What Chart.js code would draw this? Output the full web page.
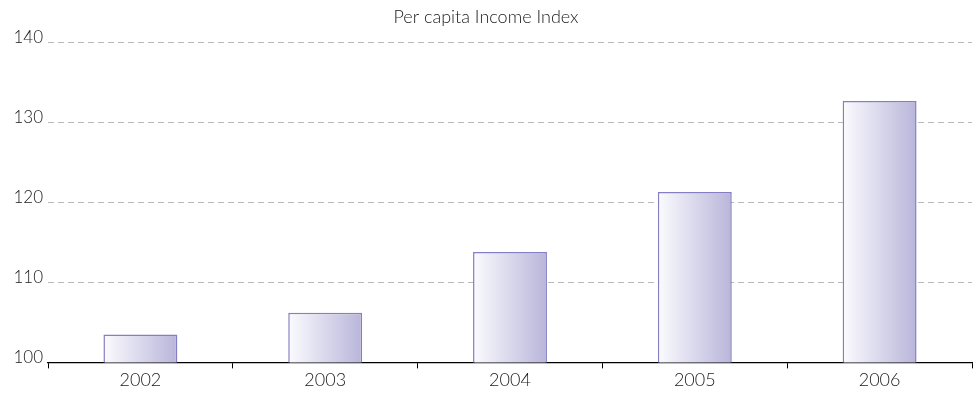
<!DOCTYPE html>
<html>
<head>
<meta charset="utf-8">
<script src="https://cdn.jsdelivr.net/npm/chart.js@4.4.1/dist/chart.umd.min.js"></script>
<style>
  html, body { margin: 0; padding: 0; background: #fff; }
  #wrap { width: 977px; height: 397px; position: relative; }
</style>
</head>
<body>
<div id="wrap"><canvas id="chart"></canvas></div>
<script>
const years = ['2002', '2003', '2004', '2005', '2006'];
const incomeIndex = [103.5, 106.2, 113.8, 121.3, 132.7];
const yTicks = [100, 110, 120, 130, 140];

const BAR_PCT = 0.4;
const textColor = '#1a1a1a';
const fontFamily = 'Lato, "Open Sans", sans-serif';

// horizontal white-to-lavender fill across each bar
function barFill(context) {
  const chart = context.chart;
  const x = chart.scales.x;
  if (!x || context.dataIndex === undefined) return '#d8d6ec';
  const centre = x.getPixelForValue(context.dataIndex);
  const half = (x.width / years.length) * BAR_PCT / 2;
  if (!isFinite(centre) || !isFinite(half) || half <= 0) return '#d8d6ec';
  const g = chart.ctx.createLinearGradient(centre - half, 0, centre + half, 0);
  g.addColorStop(0, '#fbfbfe');
  g.addColorStop(1, '#b9b5da');
  return g;
}

new Chart(document.getElementById('chart'), {
  type: 'bar',
  data: {
    labels: years,
    datasets: [{
      data: incomeIndex,
      backgroundColor: barFill,
      borderColor: '#847ec2',
      borderWidth: 1.5,
      borderSkipped: 'bottom',
      categoryPercentage: 1,
      barPercentage: BAR_PCT,
    }],
  },
  options: {
    responsive: true,
    maintainAspectRatio: false,
    animation: false,
    layout: { padding: { left: 0, right: 5, top: 0, bottom: 5 } },
    plugins: {
      legend: { display: false },
      tooltip: { enabled: false },
      title: {
        display: true,
        text: 'Per capita Income Index',
        color: textColor,
        font: { family: fontFamily, size: 18, weight: 300 },
        padding: { top: 6, bottom: 15 },
      },
    },
    scales: {
      x: {
        grid: { display: true, offset: true, drawOnChartArea: false, drawTicks: true, tickLength: 6, color: '#000' },
        border: { display: true, color: '#000', width: 1.2 },
        ticks: { color: textColor, font: { family: fontFamily, size: 18, weight: 300 }, padding: 1 },
      },
      y: {
        min: 100,
        max: 140,
        afterBuildTicks: (scale) => { scale.ticks = yTicks.map((v) => ({ value: v })); },
        afterFit: (scale) => { scale.width = 48; },
        grid: { color: '#b8b8b8', lineWidth: 1, drawTicks: false },
        border: { display: false, dash: [6, 4] },
        ticks: { color: textColor, font: { family: fontFamily, size: 17, weight: 300 }, padding: 5, labelOffset: -5 },
      },
    },
  },
});
</script>
</body>
</html>
